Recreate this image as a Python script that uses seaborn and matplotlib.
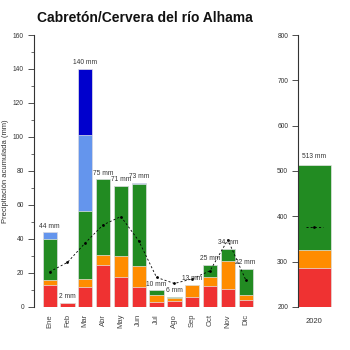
import numpy as np
import pandas as pd
import matplotlib
matplotlib.use("Agg")
import matplotlib.pyplot as plt
from matplotlib.ticker import MultipleLocator
import seaborn as sns

# Monthly accumulated precipitation (mm), split by category
months = ["Ene", "Feb", "Mar", "Abr", "May", "Jun", "Jul", "Ago", "Sep", "Oct", "Nov", "Dic"]
red = [13.0, 2.4, 12.0, 24.4, 17.4, 11.6, 3.1, 3.7, 5.7, 12.4, 10.6, 4.1]
orange = [2.8, 0.0, 4.2, 6.1, 12.8, 12.4, 4.0, 1.4, 7.3, 5.5, 16.6, 3.2]
green = [24.4, 0.0, 40.0, 44.6, 41.2, 48.6, 2.8, 0.8, 0.0, 6.9, 7.1, 15.0]
lightblue = [3.8, 0.0, 44.8, 0.0, 0.0, 0.6, 0.0, 0.0, 0.0, 0.0, 0.0, 0.0]
darkblue = [0.0, 0.0, 39.0, 0.0, 0.0, 0.0, 0.0, 0.0, 0.0, 0.0, 0.0, 0.0]
# Monthly mean (climatology)
monthly_mean = [20.7, 26.2, 37.7, 48.3, 53.2, 38.9, 17.4, 13.8, 16.5, 21.3, 39.5, 16.0]

# Annual totals
year = ["2020"]
year_red = [286.0]
year_orange = [40.0]
year_green = [187.0]
year_mean = 376.0

colors = ["#ef3232", "#ff8c00", "#228b22", "#6495ed", "#0000cd"]

sns.set_style("ticks")
plt.rcParams["font.family"] = ["Liberation Sans", "DejaVu Sans"]
fig = plt.figure(figsize=(3.5, 3.5), dpi=100)
ax = fig.add_axes([0.096, 0.123, 0.64, 0.777])
ax2 = fig.add_axes([0.851, 0.123, 0.1, 0.777])

layers = [red, orange, green, lightblue, darkblue]
cum = np.cumsum(np.array(layers), axis=0)
# Draw cumulative bars from the top layer down so they stack visually
for i in range(len(layers) - 1, -1, -1):
    df = pd.DataFrame({"mes": months, "mm": cum[i]})
    sns.barplot(data=df, x="mes", y="mm", order=months, color=colors[i],
                saturation=1, width=0.8, edgecolor="#e6e6e6", linewidth=0.5, ax=ax)

totals = cum[-1]
for k, t in enumerate(totals):
    ax.text(k, t + 1.5, f"{t:.0f} mm", ha="center", va="bottom",
            fontsize=4.8, color="#333333")

sns.lineplot(x=np.arange(12), y=monthly_mean, ax=ax, color="black",
             linestyle=(0, (2.5, 2.5)), linewidth=0.6, marker="o",
             markersize=2, markeredgewidth=0)

ax.set_xlim(-0.9, 11.67)
ax.set_ylim(0, 160)
ax.yaxis.set_major_locator(MultipleLocator(20))
ax.yaxis.set_minor_locator(MultipleLocator(10))
ax.set_xlabel("")
ax.set_ylabel("Precipitación acumulada (mm)", fontsize=5.5, color="#333333", labelpad=3)
ax.tick_params(axis="y", which="major", length=4, width=0.6, labelsize=4.8,
               colors="#333333", pad=3)
ax.tick_params(axis="y", which="minor", length=2.5, width=0.6, colors="#555555")
ax.tick_params(axis="x", length=0, labelsize=5.5, labelcolor="#444444",
               labelrotation=90, pad=5)
for s in ["top", "right", "bottom"]:
    ax.spines[s].set_visible(False)
ax.spines["left"].set_color("#333333")
ax.spines["left"].set_linewidth(0.8)

# Annual bar
ycum = np.cumsum([year_red, year_orange, year_green], axis=0)
for i in range(2, -1, -1):
    df = pd.DataFrame({"anio": year, "mm": ycum[i]})
    sns.barplot(data=df, x="anio", y="mm", color=colors[i], saturation=1,
                width=0.8, edgecolor="#e6e6e6", linewidth=0.5, ax=ax2)
ax2.text(0, ycum[-1][0] + 12, f"{ycum[-1][0]:.0f} mm", ha="center", va="bottom",
         fontsize=4.8, color="#333333")
ax2.plot([-0.2, 0.2], [year_mean, year_mean], color="black",
         linestyle=(0, (2.5, 2.5)), linewidth=0.6)
ax2.plot([0], [year_mean], marker="o", markersize=2, color="black",
         markeredgewidth=0)
ax2.set_xlim(-0.4, 0.45)
ax2.set_ylim(200, 800)
ax2.yaxis.set_major_locator(MultipleLocator(100))
ax2.set_xlabel("")
ax2.set_ylabel("")
ax2.tick_params(axis="y", length=4, width=0.6, labelsize=4.8, colors="#333333", pad=3)
ax2.tick_params(axis="x", length=0, labelsize=5.5, labelcolor="#333333", pad=8)
for s in ["top", "right", "bottom"]:
    ax2.spines[s].set_visible(False)
ax2.spines["left"].set_color("#333333")
ax2.spines["left"].set_linewidth(0.8)

fig.text(0.415, 0.948, "Cabretón/Cervera del río Alhama", ha="center", va="center",
         fontsize=10, fontweight="bold", color="#111111")

fig.savefig("out.png", dpi=100)
